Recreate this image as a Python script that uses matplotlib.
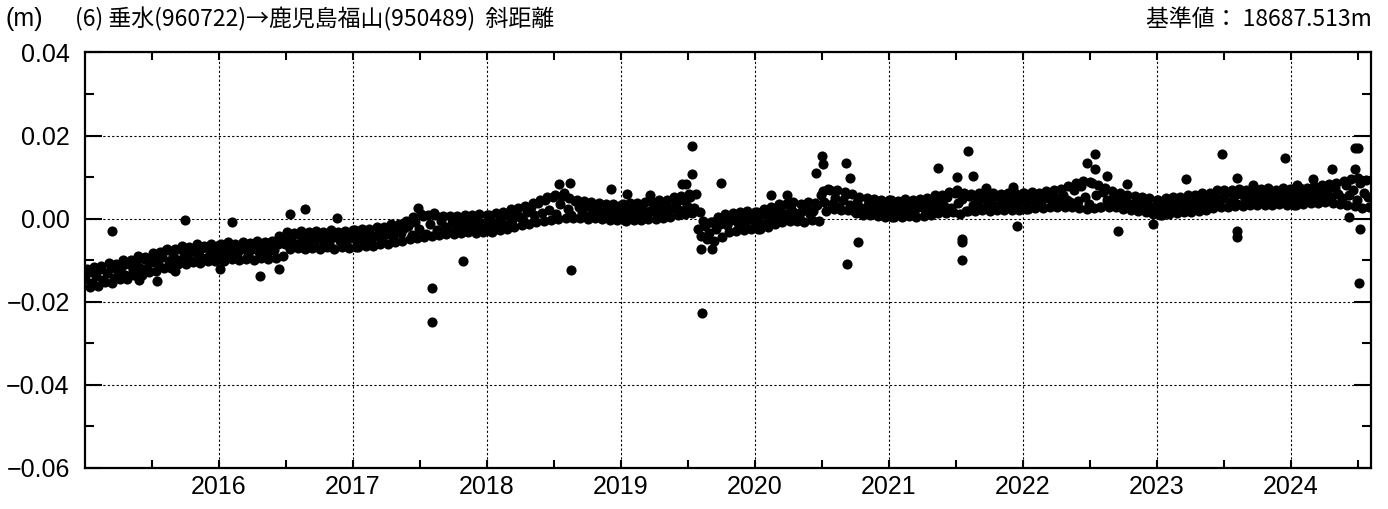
"""Slope distance time series: Tarumizu (960722) -> Kagoshima Fukuyama (950489)."""
import matplotlib
matplotlib.use("Agg")
import matplotlib.pyplot as plt
import numpy as np

# ── Data (in mm) ─────────────────────────────────────────────────────────────

# middle of the daily band, one value every 10 days from Jan 1 of each year
STEP_DAYS = 10
slope_mm = {
    2015: [-14.5, -12.8, -15.6, -13.9, -12.2, -14.8, -13.1, -11.9, -14.2, -12.6,
           -11.3, -13.5, -10.9, -12.4, -10.2, -11.8, -9.6, -11.9, -10.4, -8.9,
           -10.8, -9.3, -7.6, -10.1, -8.7, -9.9, -7.4, -9.1, -8.2, -10.3,
           -7.9, -8.8, -7.1, -9.4, -8.0, -9.0, -7.6],
    2016: [-8.3, -7.1, -9.0, -7.8, -6.9, -8.5, -7.4, -6.6, -8.8, -7.2,
           -6.4, -8.1, -7.0, -8.6, -6.8, -7.5, -6.1, -4.9, -6.2, -4.4,
           -5.6, -3.8, -5.9, -4.7, -5.3, -3.9, -6.0, -4.6, -5.2, -4.0,
           -5.8, -4.5, -3.7, -5.4, -4.3, -5.1, -4.2],
    2017: [-4.6, -5.3, -3.9, -4.8, -3.6, -5.0, -4.2, -3.4, -4.7, -3.8,
           -3.1, -4.4, -2.6, -3.5, -2.2, -1.8, -3.9, -0.8, -2.5, 0.6,
           -3.6, -1.2, 1.4, -2.8, -0.5, -2.0, -3.3, -1.1, -2.4, -0.7,
           -1.9, -0.4, -2.6, -1.3, -0.6, -2.0, -1.0],
    2018: [-1.4, -0.3, -2.1, -0.8, 0.2, -1.5, 0.6, -0.4, 1.1, 0.3,
           -0.2, 1.6, 2.9, 0.8, 3.8, 1.4, 4.6, 2.0, 5.2, 1.1,
           3.5, 6.1, 2.4, 0.9, 4.3, 2.7, 1.3, 3.0, 0.8, 2.2,
           3.4, 1.5, 0.6, 2.6, 1.2, 2.8, 1.7],
    2019: [1.6, 2.5, 0.9, 1.9, 2.8, 1.2, 2.2, 0.7, 1.8, 2.9,
           1.4, 2.4, 3.3, 1.7, 2.6, 3.8, 2.1, 4.4, 3.1, 5.2,
           2.6, -2.4, -4.1, -1.8, -3.5, -0.9, -2.6, -1.2, 0.4, -1.6,
           -0.3, 0.8, -1.1, 0.2, -0.7, 0.6, -0.4],
    2020: [-0.8, 0.4, -1.2, 0.9, -0.2, 1.6, 0.7, 2.1, 1.2, 0.5,
           2.3, 1.4, 0.6, 1.9, 2.7, 1.1, 1.8, 3.4, 5.6, 4.1,
           7.2, 3.6, 5.0, 2.8, 4.4, 6.0, 3.2, 1.8, 3.9, 2.6,
           1.5, 3.3, 2.0, 3.1, 1.7, 2.9, 2.2],
    2021: [2.3, 3.2, 1.6, 2.8, 1.9, 3.4, 2.5, 1.4, 2.9, 3.6,
           2.0, 2.7, 3.9, 2.4, 4.3, 3.0, 5.2, 2.6, 6.1, 3.8,
           4.7, 1.9, 5.5, 3.4, 4.6, 2.9, 5.0, 3.7, 4.4, 3.1,
           5.2, 3.9, 4.6, 3.5, 4.9, 3.8, 4.4],
    2022: [4.5, 3.8, 5.1, 4.2, 5.4, 4.0, 4.9, 5.6, 4.3, 5.0,
           4.4, 5.8, 4.6, 3.9, 6.8, 4.2, 7.9, 5.1, 3.6, 8.6,
           5.7, 2.8, 6.4, 4.5, 3.3, 5.5, 4.1, 3.2, 4.8, 3.6,
           2.7, 4.2, 3.0, 2.4, 3.6, 2.6, 3.1],
    2023: [2.5, 3.3, 2.1, 3.0, 3.8, 2.6, 3.5, 4.2, 2.9, 3.9,
           3.2, 4.6, 3.5, 5.1, 3.7, 4.4, 5.6, 3.9, 5.0, 6.2,
           4.1, 5.4, 3.6, 5.9, 4.5, 5.2, 6.3, 4.6, 5.5, 4.8,
           5.9, 4.4, 5.3, 6.0, 4.9, 5.6, 4.7],
    2024: [5.0, 5.8, 4.6, 5.4, 6.1, 5.0, 5.7, 4.8, 6.4, 5.5,
           6.8, 5.2, 7.4, 6.0, 4.9, 8.1, 5.6, 7.0, 4.4, 8.6,
           6.2, 5.3],
}

# upper and lower edges of the band, one value every 20 days
EDGE_STEP_DAYS = 20
upper_mm = {
    2015: [-12.0, -11.6, -11.5, -10.7, -10.8, -9.9, -9.9, -9.0, -9.2, -8.3,
           -8.1, -7.4, -7.3, -6.6, -6.8, -6.2, -6.5, -6.0, -6.3],
    2016: [-6.0, -5.7, -6.1, -5.5, -5.8, -5.4, -5.7, -5.3, -4.2, -3.2,
           -3.4, -2.9, -3.3, -3.0, -3.2, -2.8, -3.1, -2.9, -2.7],
    2017: [-2.8, -2.5, -2.4, -2.0, -2.0, -1.4, -1.3, -0.5, 0.3, 1.2,
           0.8, 0.9, 0.6, 0.7, 0.6, 0.9, 0.8, 1.1, 0.9],
    2018: [1.0, 1.4, 1.6, 2.3, 2.5, 3.1, 3.8, 4.6, 5.3, 5.8,
           5.5, 5.0, 4.6, 4.2, 3.9, 3.8, 3.6, 3.5, 3.4],
    2019: [3.5, 3.8, 3.7, 4.1, 4.0, 4.5, 4.6, 5.1, 5.5, 5.9,
           6.0, -0.5, -0.8, 0.5, 1.2, 1.4, 1.5, 1.9, 1.7],
    2020: [1.6, 2.4, 2.9, 3.6, 3.6, 3.9, 3.5, 3.9, 3.8, 6.6,
           7.0, 6.8, 6.5, 5.9, 5.2, 4.9, 4.8, 4.5, 4.6],
    2021: [4.5, 4.3, 4.7, 4.4, 4.8, 5.0, 5.6, 5.8, 6.4, 6.8,
           6.3, 6.0, 6.2, 5.9, 6.1, 6.0, 6.3, 6.1, 6.2],
    2022: [6.2, 6.4, 6.3, 6.6, 6.8, 7.2, 7.8, 8.6, 9.0, 8.8,
           8.2, 7.4, 6.6, 6.2, 5.8, 5.4, 5.1, 4.9, 4.6],
    2023: [4.6, 4.9, 5.2, 5.1, 5.6, 5.8, 6.2, 6.3, 6.9, 7.0,
           6.8, 7.2, 7.0, 7.3, 7.1, 7.4, 7.0, 7.3, 7.1],
    2024: [7.1, 7.4, 7.5, 7.8, 8.0, 8.3, 8.6, 9.0, 9.5, 9.8, 9.4],
}
lower_mm = {
    2015: [-16.5, -16.2, -15.3, -15.4, -14.5, -14.5, -13.5, -13.6, -12.8, -12.7,
           -11.9, -11.8, -11.0, -10.9, -10.4, -10.6, -10.1, -10.3, -9.9],
    2016: [-10.1, -9.8, -10.0, -9.6, -9.9, -9.4, -9.8, -9.5, -8.9, -7.4,
           -7.1, -7.4, -7.0, -7.3, -6.9, -7.2, -6.8, -7.0, -6.7],
    2017: [-6.9, -6.6, -6.5, -6.1, -6.0, -5.6, -5.4, -5.0, -4.6, -4.4,
           -4.1, -4.0, -3.8, -3.7, -3.5, -3.3, -3.4, -3.1, -3.0],
    2018: [-3.1, -2.8, -2.4, -2.0, -1.6, -1.3, -0.9, -0.5, -0.2, 0.0,
           0.2, 0.1, 0.2, 0.0, 0.1, -0.1, -0.2, -0.3, -0.4],
    2019: [-0.5, -0.4, -0.3, -0.1, -0.1, 0.2, 0.5, 0.8, 1.1, 1.3,
           1.6, -4.9, -5.4, -4.4, -3.2, -2.9, -2.8, -2.5, -2.4],
    2020: [-2.4, -1.9, -1.3, -0.8, -0.6, -0.5, -0.7, -0.4, -0.5, 1.9,
           2.4, 2.2, 2.0, 1.4, 1.0, 0.8, 0.6, 0.5, 0.4],
    2021: [0.5, 0.4, 0.6, 0.3, 0.6, 0.8, 1.3, 1.4, 1.5, 1.2,
           1.8, 1.9, 2.0, 1.8, 2.1, 2.0, 2.2, 2.1, 2.3],
    2022: [2.4, 2.5, 2.6, 2.7, 2.9, 2.9, 2.8, 2.6, 2.4, 2.6,
           2.8, 2.9, 2.7, 2.4, 2.1, 1.8, 1.5, 1.2, 1.0],
    2023: [1.0, 1.2, 1.3, 1.6, 1.6, 1.9, 2.2, 2.6, 2.7, 2.8,
           3.0, 3.0, 3.2, 3.3, 3.4, 3.3, 3.5, 3.4, 3.3],
    2024: [3.4, 3.5, 3.7, 3.7, 3.9, 3.8, 3.6, 3.4, 3.0, 2.5, 2.8],
}

# isolated points (decimal year, mm)
outlier_t = [2015.20, 2015.40, 2015.54, 2015.67, 2015.75, 2016.01, 2016.10,
             2016.31, 2016.45, 2016.53, 2016.64, 2016.88, 2017.49, 2017.59,
             2017.59, 2017.82, 2018.54, 2018.62, 2018.63, 2018.93, 2019.05,
             2019.22, 2019.46, 2019.49, 2019.53, 2019.53, 2019.60, 2019.61,
             2019.68, 2019.75, 2020.12, 2020.24, 2020.46, 2020.50, 2020.51,
             2020.68, 2020.71, 2020.69, 2020.77, 2021.37, 2021.51, 2021.59,
             2021.63, 2021.55, 2021.55, 2021.55, 2021.73, 2021.93, 2021.96,
             2022.48, 2022.54, 2022.54, 2022.63, 2022.71, 2022.78, 2022.97,
             2023.22, 2023.49, 2023.60, 2023.60, 2023.60, 2023.72, 2023.96,
             2024.05, 2024.17, 2024.31, 2024.44, 2024.48, 2024.50, 2024.48,
             2024.52, 2024.51]
outlier_mm = [-2.9, -14.7, -15.1, -12.7, -0.2, -12.0, -0.7,
              -13.7, -12.0, 1.2, 2.4, 0.2, 2.6, -16.6,
              -24.8, -10.3, 8.4, 8.7, -12.3, 7.2, 6.0,
              5.8, 8.4, 8.4, 17.5, 10.8, -7.4, -22.6,
              -7.4, 8.7, 5.8, 5.6, 11.0, 15.1, 13.2,
              13.5, 9.9, -11.0, -5.5, 12.3, 10.0, 16.3,
              10.3, -4.8, -5.5, -10.0, 7.5, 7.7, -1.7,
              13.5, 15.6, 12.0, 10.3, -2.9, 8.4, -1.2,
              9.6, 15.6, -2.9, -4.5, 9.9, 8.2, 14.7,
              8.0, 9.6, 12.0, 0.3, 17.0, 17.0, 12.0,
              -2.6, -15.4]

YEAR_TICKS = list(range(2016, 2025))
Y_TICKS = [-0.06, -0.04, -0.02, 0.00, 0.02, 0.04]

TITLE = "(6) 垂水(960722)→鹿児島福山(950489)  斜距離"
REF_TEXT = "基準値： 18687.513m"

JP_FONT = ["Noto Sans CJK JP", "DejaVu Sans"]


# ── Build series ─────────────────────────────────────────────────────────────

def _series(table, step, offset):
    ts, vs = [], []
    for year, vals in table.items():
        days = offset + np.arange(len(vals)) * step
        ts.append(year + days / 365.25)
        vs.append(np.asarray(vals, dtype=float))
    return np.concatenate(ts), np.concatenate(vs)


t_mid, v_mid = _series(slope_mm, STEP_DAYS, 0)
t_up, v_up = _series(upper_mm, EDGE_STEP_DAYS, 5)
t_lo, v_lo = _series(lower_mm, EDGE_STEP_DAYS, 15)

t = np.concatenate([t_up, t_lo, t_mid, np.asarray(outlier_t)])
v = np.concatenate([v_up, v_lo, v_mid, np.asarray(outlier_mm)]) / 1000.0

# ── Plot ─────────────────────────────────────────────────────────────────────

plt.rcParams["font.family"] = ["Liberation Sans", "DejaVu Sans"]
fig = plt.figure(figsize=(13.88, 5.09), dpi=100)
ax = fig.add_axes([0.0612, 0.0806, 0.9265, 0.8163])

ax.plot(t, v, "o", color="black", ms=7.3, mew=0)

ax.set_xlim(2015.0, 2024.60)
ax.set_ylim(-0.06, 0.04)
ax.set_xticks(YEAR_TICKS)
ax.set_xticklabels([str(y) for y in YEAR_TICKS])
ax.set_xticks([y + 0.5 for y in range(2015, 2025)], minor=True)
ax.set_yticks(Y_TICKS)
ax.set_yticklabels([f"{y:.2f}".replace("-", "\u2212") for y in Y_TICKS])
ax.set_yticks([-0.05, -0.03, -0.01, 0.01, 0.03], minor=True)

ax.tick_params(axis="both", which="both", direction="in", top=True, right=True,
               width=1.5, labelsize=18, colors="black")
ax.tick_params(axis="x", which="both", length=5.8, pad=5)
ax.tick_params(axis="y", which="major", length=12.2, pad=11)
ax.tick_params(axis="y", which="minor", length=6.5)
for s in ax.spines.values():
    s.set_linewidth(1.6)

ax.grid(True, which="major", color="black", linestyle=(0, (2, 2)), linewidth=0.8)
ax.set_axisbelow(True)

fig.text(0.004, 0.948, "(m)", fontsize=18, ha="left", va="baseline")
fig.text(0.054, 0.948, TITLE, fontsize=16.5, ha="left", va="baseline", family=JP_FONT)
fig.text(0.9885, 0.948, REF_TEXT, fontsize=16.5, ha="right", va="baseline",
         family=JP_FONT)

fig.savefig("out.png", dpi=100)
